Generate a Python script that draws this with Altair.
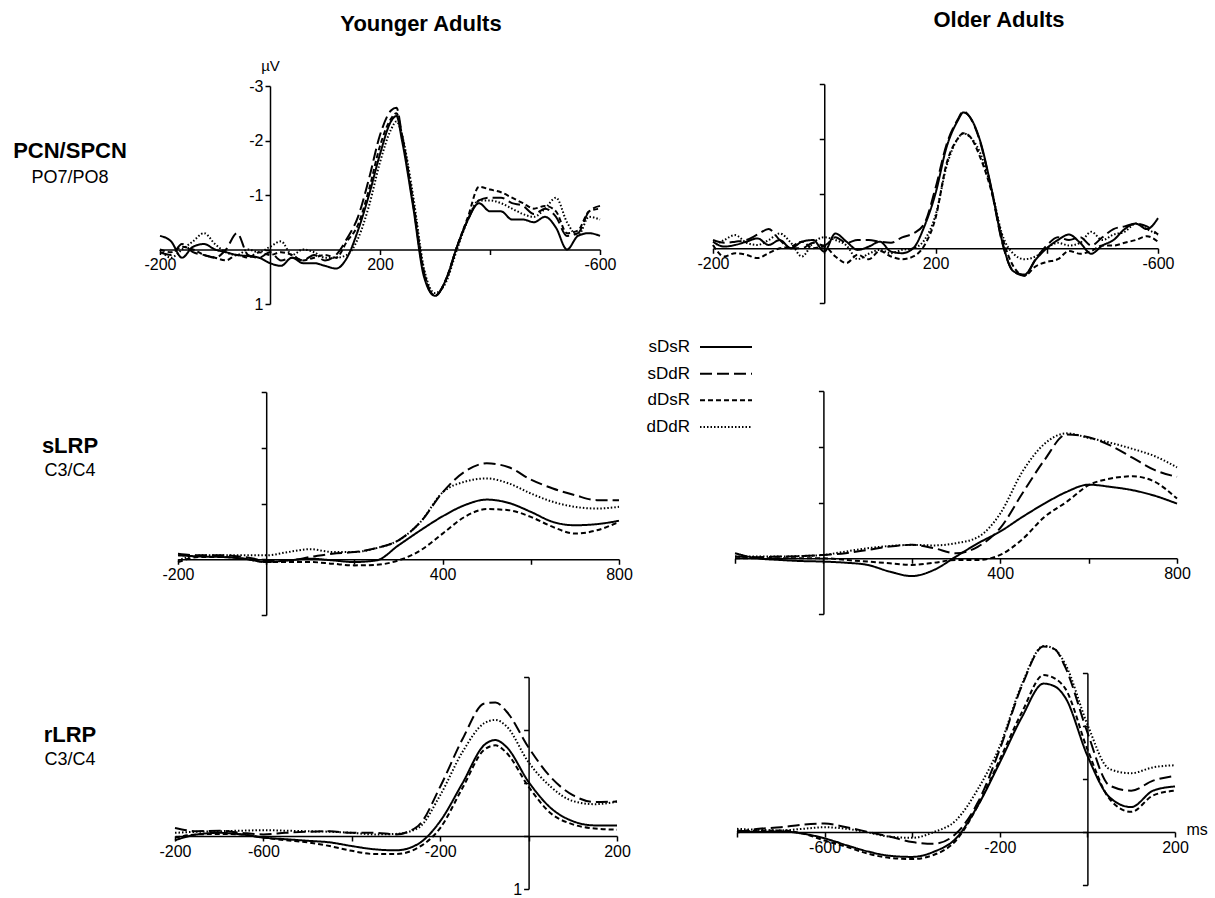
import altair as alt
import pandas as pd

# ---------------- data ----------------
CONDS = ["sDsR", "sDdR", "dDsR", "dDdR"]
DASHES = [[1, 0], [12, 5], [5, 3], [1.5, 2]]

COL_TITLES = ["Younger Adults", "Older Adults"]
ROW_TITLES = ["PCN/SPCN", "sLRP", "rLRP"]
ROW_SITES = ["PO7/PO8", "C3/C4", "C3/C4"]

# PCN/SPCN, younger (ms, µV)
PCN_Y_MS = [-200, -180, -160, -140, -120, -100, -80, -60, -40, -20, 0, 20, 40, 60, 80, 100, 120, 140, 160, 180,
            200, 220, 230, 240, 260, 280, 300, 320, 340, 360, 380, 400, 420, 440, 460, 480, 500, 520, 540, 560, 580, 600]
PCN_Y_sDsR = [-0.25, -0.15, 0.15, -0.05, -0.1, 0.0, 0.05, 0.1, 0.12, 0.15, 0.25, 0.3, 0.15, 0.25, 0.25, 0.3, 0.35, 0.15, -0.35, -1.0,
              -1.75, -2.35, -2.45, -2.0, -0.8, 0.5, 0.85, 0.55, -0.05, -0.55, -0.85, -0.7, -0.7, -0.55, -0.55, -0.5, -0.6, -0.4, 0.0, -0.25, -0.3, -0.25]
PCN_Y_sDdR = [0.05, 0.1, -0.1, 0.05, 0.1, 0.15, 0.0, -0.3, 0.1, 0.15, 0.05, 0.2, 0.15, 0.2, 0.1, 0.2, 0.1, -0.2, -0.6, -1.3,
              -2.1, -2.55, -2.6, -2.1, -0.85, 0.45, 0.85, 0.55, -0.05, -0.55, -0.9, -0.95, -0.95, -0.85, -0.8, -0.65, -0.75, -0.6, -0.25, -0.3, -0.7, -0.8]
PCN_Y_dDsR = [0.0, 0.05, -0.05, 0.0, 0.1, 0.15, 0.2, 0.1, 0.15, 0.05, 0.1, 0.05, 0.1, 0.2, 0.15, 0.1, 0.15, -0.15, -0.45, -1.1,
              -1.9, -2.4, -2.5, -2.1, -0.9, 0.4, 0.85, 0.55, -0.05, -0.6, -1.15, -1.1, -1.05, -0.95, -0.85, -0.75, -0.8, -0.7, -0.3, -0.35, -0.7, -0.75]
PCN_Y_dDdR = [0.0, 0.15, 0.0, -0.15, -0.3, -0.1, 0.05, 0.1, 0.0, 0.05, -0.05, -0.15, 0.1, 0.0, 0.05, 0.15, 0.15, 0.1, -0.2, -0.8,
              -1.6, -2.2, -2.35, -2.1, -1.0, 0.35, 0.8, 0.6, 0.0, -0.55, -0.9, -0.9, -0.85, -0.75, -0.65, -0.6, -0.75, -0.95, -0.5, -0.25, -0.6, -0.55]

# PCN/SPCN, older
PCN_O_MS = [-200, -180, -160, -140, -120, -100, -80, -60, -40, -20, 0, 20, 40, 60, 80, 100, 120, 140, 160, 180,
            200, 220, 240, 250, 260, 280, 300, 320, 340, 360, 380, 400, 420, 440, 460, 480, 500, 520, 540, 560, 580, 600]
PCN_O_sDsR = [-0.12, -0.03, -0.06, -0.12, -0.18, -0.06, -0.15, 0.0, -0.12, -0.15, 0.06, -0.27, -0.12, 0.03, -0.03, -0.12, 0.06, 0.09, 0.0, -0.4,
              -1.0, -1.85, -2.33, -2.48, -2.42, -1.97, -1.12, -0.12, 0.42, 0.48, 0.21, 0.0, -0.15, -0.25, -0.1, 0.1, -0.05, -0.15, -0.35, -0.45, -0.35, -0.55]
PCN_O_sDdR = [-0.15, -0.1, -0.12, -0.15, -0.25, -0.35, -0.15, 0.0, 0.0, -0.1, -0.05, -0.2, -0.1, -0.15, -0.15, -0.12, -0.1, -0.2, -0.27, -0.45,
              -1.1, -1.9, -2.35, -2.5, -2.42, -1.95, -1.1, -0.1, 0.42, 0.5, 0.2, -0.05, -0.2, -0.15, -0.2, -0.05, -0.2, -0.35, -0.4, -0.45, -0.4, -0.25]
PCN_O_dDsR = [-0.06, 0.15, 0.09, 0.12, 0.18, 0.09, 0.0, -0.03, -0.12, 0.0, -0.03, 0.15, 0.27, 0.12, 0.2, 0.05, 0.15, 0.2, 0.15, -0.05,
              -0.55, -1.55, -2.0, -2.1, -2.06, -1.67, -1.06, -0.2, 0.33, 0.5, 0.33, 0.25, 0.2, 0.05, 0.1, 0.05, -0.05, -0.05, -0.1, -0.15, -0.22, -0.12]
PCN_O_dDdR = [-0.03, -0.15, -0.24, -0.1, -0.06, -0.15, -0.27, -0.1, 0.15, -0.1, -0.2, -0.15, -0.05, 0.2, 0.1, 0.03, 0.09, 0.03, 0.0, -0.15,
              -0.6, -1.5, -2.0, -2.1, -2.05, -1.75, -1.1, -0.25, 0.1, 0.2, 0.15, 0.0, -0.1, -0.05, -0.1, -0.3, -0.15, -0.25, -0.3, -0.45, -0.35, -0.25]

# sLRP (stimulus-locked)
SLRP_MS = [-200, -150, -100, -50, 0, 50, 100, 150, 200, 250, 300, 350, 400, 450, 500, 550, 600, 650, 700, 750, 800]
SLRP_Y_sDsR = [-0.07, -0.05, -0.04, -0.01, 0.05, 0.02, -0.01, 0.02, 0.05, 0.02, -0.25, -0.52, -0.77, -0.97, -1.07, -1.01, -0.85, -0.67, -0.61, -0.63, -0.69]
SLRP_Y_sDdR = [-0.1, -0.07, -0.07, -0.04, 0.02, 0.02, -0.04, -0.1, -0.13, -0.2, -0.34, -0.67, -1.2, -1.57, -1.72, -1.65, -1.43, -1.27, -1.15, -1.06, -1.06]
SLRP_Y_dDsR = [0.05, -0.04, -0.04, -0.01, 0.05, 0.05, 0.05, 0.08, 0.11, 0.1, 0.02, -0.16, -0.46, -0.76, -0.9, -0.88, -0.76, -0.58, -0.46, -0.52, -0.67]
SLRP_Y_dDdR = [0.02, -0.07, -0.07, -0.07, -0.07, -0.13, -0.18, -0.13, -0.13, -0.2, -0.34, -0.67, -1.2, -1.39, -1.45, -1.36, -1.18, -1.03, -0.94, -0.91, -0.94]
SLRP_O_sDsR = [-0.09, 0.0, 0.03, 0.05, 0.06, 0.08, 0.12, 0.24, 0.32, 0.21, -0.03, -0.27, -0.48, -0.74, -0.98, -1.19, -1.32, -1.28, -1.22, -1.12, -0.98]
SLRP_O_sDdR = [-0.03, -0.02, -0.03, -0.04, -0.06, -0.09, -0.15, -0.21, -0.24, -0.18, -0.09, -0.21, -0.54, -1.16, -1.76, -2.22, -2.17, -2.02, -1.8, -1.58, -1.46]
SLRP_O_dDsR = [0.0, 0.0, 0.0, 0.0, 0.0, 0.03, 0.06, 0.09, 0.12, 0.08, 0.03, 0.03, -0.06, -0.34, -0.74, -1.01, -1.31, -1.43, -1.47, -1.37, -1.07]
SLRP_O_dDdR = [-0.03, -0.03, -0.03, -0.04, -0.06, -0.12, -0.18, -0.22, -0.24, -0.23, -0.27, -0.38, -0.8, -1.55, -2.05, -2.24, -2.16, -2.07, -1.96, -1.83, -1.63]

# rLRP (response-locked)
RLRP_MS = [-800, -750, -700, -650, -600, -550, -500, -450, -400, -350, -300, -250, -200, -150, -100, -75, -50, 0, 50, 100, 150, 200]
RLRP_Y_sDsR = [0.08, -0.03, -0.06, -0.03, 0.03, 0.06, 0.09, 0.12, 0.19, 0.25, 0.27, 0.15, -0.28, -0.99, -1.72, -1.81, -1.68, -1.02, -0.53, -0.28, -0.2, -0.2]
RLRP_Y_sDdR = [-0.15, -0.09, -0.1, -0.06, -0.03, -0.06, -0.08, -0.09, -0.06, -0.06, -0.03, -0.19, -0.93, -1.82, -2.5, -2.52, -2.35, -1.67, -1.11, -0.77, -0.64, -0.65]
RLRP_Y_dDsR = [0.03, -0.03, -0.04, -0.03, 0.03, 0.08, 0.12, 0.19, 0.28, 0.34, 0.34, 0.22, -0.15, -0.9, -1.63, -1.71, -1.57, -0.93, -0.43, -0.22, -0.14, -0.12]
RLRP_Y_dDdR = [-0.06, -0.08, -0.09, -0.1, -0.11, -0.1, -0.09, -0.08, -0.06, -0.03, -0.04, -0.15, -0.77, -1.58, -2.13, -2.19, -2.07, -1.39, -0.93, -0.66, -0.6, -0.65]
RLRP_O_sDsR = [-0.03, 0.0, -0.01, 0.03, 0.12, 0.25, 0.37, 0.45, 0.47, 0.37, 0.12, -0.5, -1.31, -2.16, -2.8, -2.75, -2.53, -1.44, -0.66, -0.47, -0.78, -0.86]
RLRP_O_sDdR = [0.0, -0.06, -0.09, -0.14, -0.16, -0.09, 0.0, 0.09, 0.19, 0.22, 0.03, -0.56, -1.56, -2.75, -3.5, -3.45, -3.1, -1.88, -0.88, -0.78, -0.97, -1.06]
RLRP_O_dDsR = [0.01, -0.03, -0.03, 0.03, 0.16, 0.28, 0.41, 0.49, 0.51, 0.43, 0.16, -0.5, -1.37, -2.25, -2.96, -2.9, -2.7, -1.56, -0.63, -0.38, -0.69, -0.78]
RLRP_O_dDdR = [-0.06, -0.04, -0.03, -0.06, -0.09, -0.06, 0.01, 0.09, 0.11, 0.0, -0.22, -0.81, -1.62, -2.78, -3.51, -3.45, -3.16, -2.03, -1.19, -1.11, -1.22, -1.26]

Y_DOMAIN = [-3, 1]
Y_TICKS = [-3, -2, -1, 0, 1]

# ---------------- helpers ----------------
FONT = "Liberation Sans"
W_TOTAL, H_TOTAL = 1215, 898
dash_scale = alt.Scale(domain=CONDS, range=DASHES)


def label_expr(mapping):
    if not mapping:
        return "''"
    parts = [f"datum.value == {k} ? '{v}'" for k, v in mapping.items()]
    return " : ".join(parts) + " : ''"


def long_df(ms, series):
    rows = []
    for cond, vals in zip(CONDS, series):
        for t, v in zip(ms, vals):
            rows.append({"ms": t, "uv": v, "cond": cond})
    return pd.DataFrame(rows)


def panel(ms, series, xdom, xrange, yrange, xticks, xlabels, ylabels, ytitle="", xtitle=""):
    """One ERP panel placed in the shared canvas via the pixel ranges of its own scales."""
    df = long_df(ms, series)
    x0 = xrange[0] + (xrange[1] - xrange[0]) * (0 - xdom[0]) / (xdom[1] - xdom[0])
    y0 = yrange[0] + (yrange[1] - yrange[0]) * (0 - Y_DOMAIN[0]) / (Y_DOMAIN[1] - Y_DOMAIN[0])
    xaxis_kw = dict(
        orient="bottom", offset=-(H_TOTAL - y0), values=xticks, labelExpr=label_expr(xlabels),
        title=xtitle, labelFlush=False, labelOverlap=False, grid=False,
    )
    if xtitle:
        xaxis_kw.update(titleAngle=0, titleX=xrange[1] + 11, titleY=-3, titleAlign="left",
                        titleBaseline="middle", titleFontWeight="normal", titleFontSize=16)
    yaxis_kw = dict(
        orient="left", offset=-x0, values=Y_TICKS, labelExpr=label_expr(ylabels),
        title=ytitle, labelFlush=False, labelOverlap=False, grid=False,
    )
    if ytitle:
        yaxis_kw.update(titleAngle=0, titleX=0, titleY=yrange[0] - 16, titleAlign="center",
                        titleBaseline="alphabetic", titleFontWeight="normal", titleFontSize=15)
    return alt.Chart(df).mark_line(color="black", strokeWidth=2, interpolate="monotone").encode(
        x=alt.X("ms:Q", scale=alt.Scale(domain=xdom, range=list(xrange), nice=False, zero=False),
                axis=alt.Axis(**xaxis_kw)),
        y=alt.Y("uv:Q", scale=alt.Scale(domain=Y_DOMAIN, range=list(yrange), nice=False, zero=False),
                axis=alt.Axis(**yaxis_kw)),
        strokeDash=alt.StrokeDash("cond:N", scale=dash_scale, legend=None),
    )


def text_layer(txt, x, y, size, bold=False, align="center", baseline="alphabetic"):
    d = pd.DataFrame({"t": [txt]})
    return alt.Chart(d).mark_text(
        fontSize=size, fontWeight="bold" if bold else "normal", align=align, baseline=baseline,
        color="black", font=FONT,
    ).encode(text="t:N", x=alt.value(x), y=alt.value(y))


# ---------------- panels ----------------
x_pcn = [-200, 0, 200, 400, 600]
x_slrp = [-200, 0, 200, 400, 600, 800]
x_rlrp = [-800, -600, -400, -200, 0, 200]

tl = panel(PCN_Y_MS, [PCN_Y_sDsR, PCN_Y_sDdR, PCN_Y_dDsR, PCN_Y_dDdR], [-200, 600], (160, 600), (86, 304),
           x_pcn, {-200: "-200", 200: "200", 600: "-600"}, {-3: "-3", -2: "-2", -1: "-1", 1: "1"}, ytitle="µV")
tr = panel(PCN_O_MS, [PCN_O_sDsR, PCN_O_sDdR, PCN_O_dDsR, PCN_O_dDdR], [-200, 600], (713, 1158), (84, 303),
           x_pcn, {-200: "-200", 200: "200", 600: "-600"}, {})
ml = panel(SLRP_MS, [SLRP_Y_sDsR, SLRP_Y_sDdR, SLRP_Y_dDsR, SLRP_Y_dDdR], [-200, 800], (178, 619), (392, 615),
           x_slrp, {-200: "-200", 400: "400", 800: "800"}, {})
mr = panel(SLRP_MS, [SLRP_O_sDsR, SLRP_O_sDdR, SLRP_O_dDsR, SLRP_O_dDdR], [-200, 800], (735, 1177), (391, 614),
           x_slrp, {400: "400", 800: "800"}, {})
bl = panel(RLRP_MS, [RLRP_Y_sDsR, RLRP_Y_sDdR, RLRP_Y_dDsR, RLRP_Y_dDdR], [-800, 200], (175, 617), (677, 889),
           x_rlrp, {-800: "-200", -600: "-600", -200: "-200", 200: "200"}, {1: "1"})
br = panel(RLRP_MS, [RLRP_O_sDsR, RLRP_O_sDdR, RLRP_O_dDsR, RLRP_O_dDdR], [-800, 200], (737, 1175), (673, 885),
           x_rlrp, {-600: "-600", -200: "-200", 200: "200"}, {}, xtitle="ms")

# ---------------- legend ----------------
leg_df = pd.DataFrame({"cond": CONDS})
leg_y = alt.Y("cond:N", scale=alt.Scale(type="point", domain=CONDS, range=[347, 427], padding=0), axis=None)
leg_text = alt.Chart(leg_df).mark_text(align="right", baseline="middle", fontSize=17, color="black", font=FONT).encode(
    x=alt.value(690), y=leg_y, text="cond:N")
leg_line = alt.Chart(leg_df).mark_rule(color="black", strokeWidth=2).encode(
    x=alt.value(700), x2=alt.value(752), y=leg_y,
    strokeDash=alt.StrokeDash("cond:N", scale=dash_scale, legend=None))
legend = alt.layer(leg_text, leg_line)

# ---------------- titles ----------------
texts = [
    text_layer(COL_TITLES[0], 421, 31, 22, bold=True),
    text_layer(COL_TITLES[1], 999, 27, 22, bold=True),
    text_layer(ROW_TITLES[0], 70, 158, 22, bold=True),
    text_layer(ROW_SITES[0], 70, 183, 18),
    text_layer(ROW_TITLES[1], 70, 453, 22, bold=True),
    text_layer(ROW_SITES[1], 70, 476, 18),
    text_layer(ROW_TITLES[2], 70, 742, 22, bold=True),
    text_layer(ROW_SITES[2], 70, 765, 18),
]

chart = alt.layer(tl, tr, ml, mr, bl, br, legend, *texts).resolve_scale(
    x="independent", y="independent", strokeDash="shared"
).properties(
    width=W_TOTAL, height=H_TOTAL, padding=0, autosize=alt.AutoSizeParams(type="none")
).configure(font=FONT).configure_view(strokeWidth=0).configure_axis(
    domainColor="black", domainWidth=1.5, tickColor="black", tickWidth=1.5, tickSize=5,
    labelColor="black", labelFontSize=16, labelPadding=2, labelFont=FONT, titleColor="black", titleFont=FONT,
)

chart.save("out.html", embed_options={"renderer": "svg", "actions": False})
